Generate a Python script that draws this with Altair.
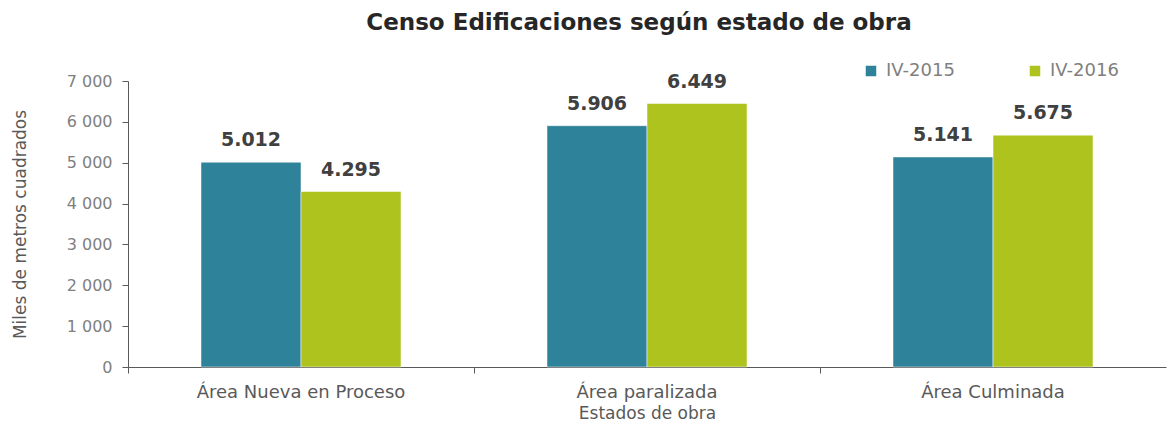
import altair as alt
import pandas as pd

categories = ["Área Nueva en Proceso", "Área paralizada", "Área Culminada"]
series = ["IV-2015", "IV-2016"]
values_2015 = [5012, 5906, 5141]
values_2016 = [4295, 6449, 5675]

rows = []
for c, v in zip(categories, values_2015):
    rows.append({"estado": c, "periodo": "IV-2015", "valor": v})
for c, v in zip(categories, values_2016):
    rows.append({"estado": c, "periodo": "IV-2016", "valor": v})
df = pd.DataFrame(rows)

FONT = "DejaVu Sans"
colors = ["#2E839A", "#AFC31F"]

base = alt.Chart(df).encode(
    x=alt.X("estado:N", sort=categories,
            scale=alt.Scale(paddingInner=0, paddingOuter=0),
            axis=alt.Axis(title="Estados de obra", labelAngle=0, bandPosition=0,
                          labelFontSize=18, labelColor="#595959", labelFont=FONT,
                          labelLimit=400,
                          titleFontSize=17, titleColor="#595959", titleFont=FONT,
                          titleFontWeight="normal", labelPadding=10, titlePadding=4,
                          tickSize=6, tickColor="#595959", domainColor="#595959")),
    xOffset=alt.XOffset("periodo:N", sort=series,
                        scale=alt.Scale(paddingInner=0, paddingOuter=0.73)),
)

bars = base.mark_bar(stroke="white", strokeWidth=0.5).encode(
    y=alt.Y("valor:Q", scale=alt.Scale(domain=[0, 7000]),
            axis=alt.Axis(title="Miles de metros cuadrados", values=list(range(0, 7001, 1000)),
                          labelExpr="replace(format(datum.value, ','), ',', ' ')",
                          labelFontSize=16, labelColor="#7f7f7f", labelFont=FONT,
                          titleFontSize=17, titleColor="#595959", titleFont=FONT,
                          titleFontWeight="normal", titlePadding=37, labelPadding=10,
                          tickSize=6, tickColor="#595959", domainColor="#595959",
                          grid=False)),
    color=alt.Color("periodo:N", sort=series,
                    scale=alt.Scale(domain=series, range=colors),
                    legend=alt.Legend(title=None, orient="none", direction="horizontal",
                                      legendX=734, legendY=-19, symbolType="square",
                                      symbolSize=110, symbolStrokeWidth=0,
                                      labelFontSize=18, labelColor="#7f7f7f", labelFont=FONT,
                                      columnPadding=71, symbolOffset=0, labelOffset=6)),
)

labels = base.mark_text(dy=-12, fontSize=19, fontWeight="bold", color="#404040",
                        font=FONT, baseline="bottom").transform_calculate(
    lbl="replace(format(datum.valor, ','), ',', '.')"
).encode(
    y=alt.Y("valor:Q"),
    text="lbl:N",
)

chart = alt.layer(bars, labels).properties(
    width=1038, height=286,
    title=alt.TitleParams("Censo Edificaciones según estado de obra", fontSize=23,
                          font=FONT, fontWeight="bold", color="#262626",
                          anchor="middle", offset=27, dx=-8),
    autosize=alt.AutoSizeParams(type="none"),
    padding={"left": 120, "top": 73, "right": 1, "bottom": 56},
).configure_view(stroke=None)

chart.save("out.html", embed_options={"renderer": "svg", "actions": False})
